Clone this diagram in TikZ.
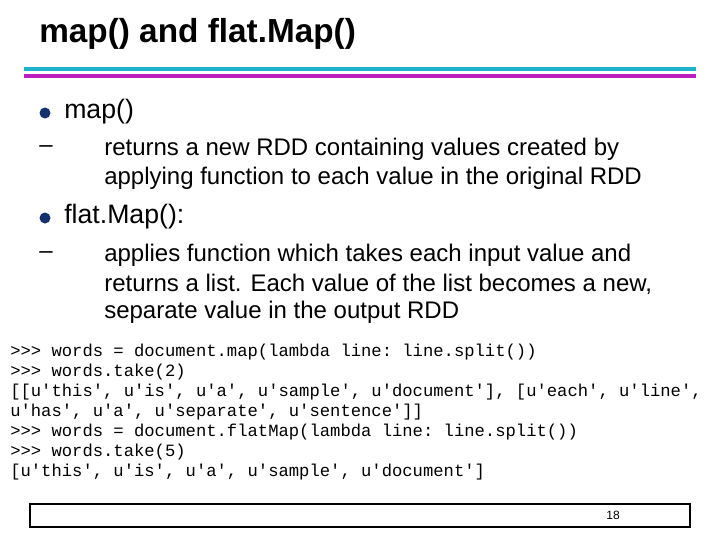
\documentclass[tikz,border=0pt]{standalone}
\usepackage{fontspec}
\setmainfont{Liberation Sans}
\setmonofont{Liberation Mono}
\definecolor{barcyan}{RGB}{30,178,205}
\definecolor{barmag}{RGB}{190,30,190}
\definecolor{dotblue}{RGB}{20,50,110}
\tikzset{
  body/.style={anchor=west,inner sep=0.75pt,font=\fontsize{20}{24}\selectfont},
  sub/.style={anchor=west,inner sep=0.75pt,align=left,font=\fontsize{18}{21.5}\selectfont},
  code/.style={anchor=west,inner sep=0.75pt,font=\ttfamily\fontsize{12.9}{15}\selectfont}
}
\begin{document}
\begin{tikzpicture}[x=0.75pt,y=0.75pt,yscale=-1,xscale=1]
    \useasboundingbox (0,0) rectangle (720,540);
    
    % Title
    \draw (38,34) node [anchor=west][inner sep=0.75pt] (title) {\fontsize{25}{28}\selectfont\bfseries map() and flat.Map()};
    %Straight Lines [id:bars] 
    \draw [barcyan, line width=2.6pt]  (24,69) -- (696,69) ;
    \draw [barmag, line width=2.6pt]  (24,76) -- (696,76) ;
    
    % Bullets
    \fill [dotblue] (45,113) circle (5.5) ;
    \draw (63,112) node [body] (mapitem) {map()};
    \draw (38,149) node [sub] (dashA) {–};
    \draw (103,149) node [sub] (mapA) {returns a new RDD containing values created by};
    \draw (103,178) node [sub] (mapB) {applying function to each value in the original RDD};
    \fill [dotblue] (45,218) circle (5.5) ;
    \draw (63,217) node [body] (flatitem) {flat.Map():};
    \draw (38,255) node [sub] (dashB) {–};
    \draw (103,255) node [sub] (flatA) {applies function which takes each input value and};
    \draw (103,284) node [sub] (flatB) {returns a list. Each value of the list becomes a new,};
    \draw (103,312) node [sub] (flatC) {separate value in the output RDD};
    
    % Code
    \draw (9,352) node [code] (codeA) {>>> words = document.map(lambda line: line.split())};
    \draw (9,372) node [code] (codeB) {>>> words.take(2)};
    \draw (9,392) node [code] (codeC) {[[u'this', u'is', u'a', u'sample', u'document'], [u'each', u'line',};
    \draw (9,412) node [code] (codeD) {u'has', u'a', u'separate', u'sentence']]};
    \draw (9,432) node [code] (codeE) {>>> words = document.flatMap(lambda line: line.split())};
    \draw (9,452) node [code] (codeF) {>>> words.take(5)};
    \draw (9,472) node [code] (codeG) {[u'this', u'is', u'a', u'sample', u'document']};
    
    % Footer
    \draw [line width=1.5pt]  (30,504) rectangle (690,527) ;
    \draw (613,515) node [inner sep=0.75pt] (pagenum) {\fontsize{9}{10}\selectfont 18};
    
\end{tikzpicture}
\end{document}
